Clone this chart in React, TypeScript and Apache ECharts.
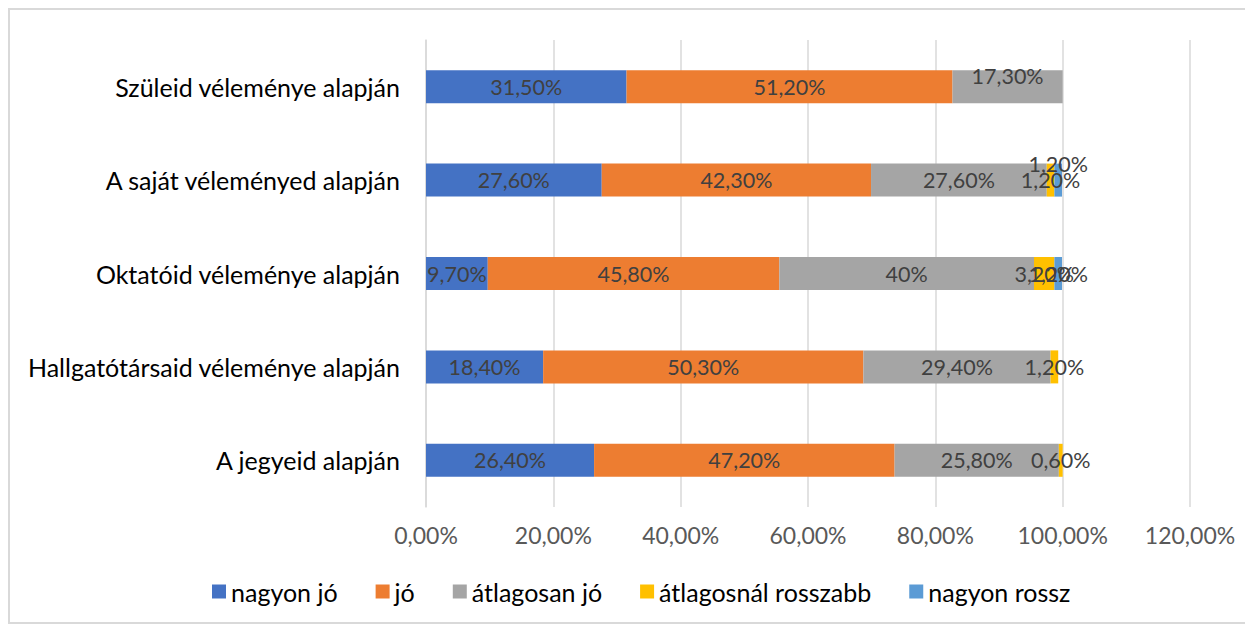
import React, { useEffect, useRef } from "react";
import * as echarts from "echarts";

const categories = [
  "A jegyeid alapján",
  "Hallgatótársaid véleménye alapján",
  "Oktatóid véleménye alapján",
  "A saját véleményed alapján",
  "Szüleid véleménye alapján",
];
const seriesNames = ["nagyon jó", "jó", "átlagosan jó", "átlagosnál rosszabb", "nagyon rossz"];
const nagyonJo = [26.4, 18.4, 9.7, 27.6, 31.5];
const jo = [47.2, 50.3, 45.8, 42.3, 51.2];
const atlagosanJo = [25.8, 29.4, 40, 27.6, 17.3];
const atlagosnalRosszabb = [0.6, 1.2, 3.2, 1.2, null];
const nagyonRossz = [null, null, 1.2, 1.2, null];
const colors = ["#4472C4", "#ED7D31", "#A5A5A5", "#FFC000", "#5B9BD5"];
const xTicks = [0, 20, 40, 60, 80, 100, 120];

const FONT = "Lato, 'Liberation Sans', sans-serif";

function fmt(v: number): string {
  if (Number.isInteger(v)) return v + "%";
  return v.toFixed(2).replace(".", ",") + "%";
}

export default function App() {
  const ref = useRef<HTMLDivElement>(null);
  useEffect(() => {
    document.body.style.overflow = "hidden";
    const chart = echarts.init(ref.current!, null, { renderer: "svg" });
    const all = [nagyonJo, jo, atlagosanJo, atlagosnalRosszabb, nagyonRossz];
    const offsets: Record<string, number[]> = {
      "2-4": [0, -11],
      "4-3": [0, -16],
    };
    const series = all.map((arr, si) => ({
      name: seriesNames[si],
      type: "bar",
      stack: "total",
      barWidth: 33,
      itemStyle: { color: colors[si] },
      data: arr.map((v, ci) =>
        v == null
          ? null
          : {
              value: v,
              label: offsets[`${si}-${ci}`] ? { offset: offsets[`${si}-${ci}`] } : undefined,
            }
      ),
      label: {
        show: true,
        position: "inside",
        color: "#404040",
        fontSize: 21.5,
        fontFamily: FONT,
        formatter: (p: any) => fmt(p.value),
      },
    }));
    chart.setOption({
      animation: false,
      textStyle: { fontFamily: FONT },
      grid: {
        left: 416,
        right: 63,
        top: 30,
        bottom: 117,
        containLabel: false,
        outerBoundsMode: "none",
      },
      legend: {
        top: 564,
        left: 197,
        itemWidth: 14,
        itemHeight: 14,
        itemGap: 38,
        icon: "rect",
        textStyle: { fontSize: 25, color: "#000000", fontFamily: FONT },
        data: seriesNames,
      },
      xAxis: {
        type: "value",
        min: 0,
        max: 120,
        interval: 20,
        axisLine: { show: false },
        axisTick: { show: false },
        splitLine: { lineStyle: { color: "#D9D9D9", width: 1.5 } },
        axisLabel: {
          color: "#595959",
          fontSize: 23,
          fontFamily: FONT,
          margin: 16,
          formatter: (v: number) => (xTicks.includes(v) ? v.toFixed(2).replace(".", ",") + "%" : ""),
        },
      },
      yAxis: {
        type: "category",
        data: categories,
        axisLine: { show: true, lineStyle: { color: "#D9D9D9", width: 1.5 } },
        axisTick: { show: false },
        axisLabel: { color: "#000000", fontSize: 25, fontFamily: FONT, margin: 26 },
      },
      series,
    });
    return () => chart.dispose();
  }, []);
  return (
    <div
      style={{
        width: 1245,
        height: 616,
        border: "2px solid #D9D9D9",
        boxSizing: "border-box",
        background: "#fff",
      }}
    >
      <div ref={ref} style={{ width: 1243, height: 614 }} />
    </div>
  );
}
